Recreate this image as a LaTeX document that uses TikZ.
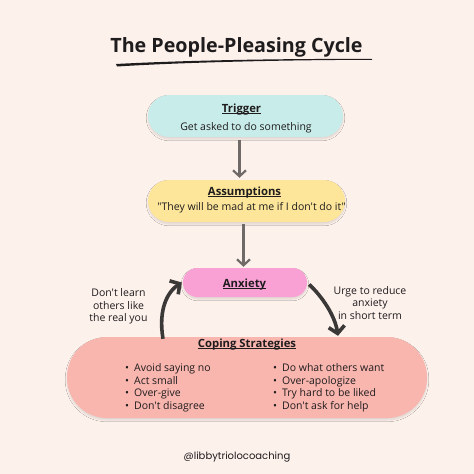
\documentclass[tikz,border=0pt]{standalone}
\usepackage{fontspec}
\usepackage{tikz}
\usepackage{xcolor}
\usetikzlibrary{arrows.meta,shadows.blur}

\newfontfamily\osans{Open Sans}
\newfontfamily\handlefont{Poppins}

\definecolor{bgpeach}{HTML}{FDF1EC}
\definecolor{triggerfill}{HTML}{C8ECEA}
\definecolor{assumefill}{HTML}{FDE69A}
\definecolor{anxietyfill}{HTML}{F9A1D5}
\definecolor{copingfill}{HTML}{F9B6AF}
\definecolor{arrowgray}{HTML}{6F6A67}
\definecolor{curvedark}{HTML}{3B3838}
\definecolor{inkdark}{HTML}{1F1C1D}

\newlength\ulwd
\newcommand\boxtitle[1]{\settowidth\ulwd{#1}\rlap{\rule[-1.8pt]{\ulwd}{1pt}}#1}

\begin{document}
\begin{tikzpicture}[x=1pt,y=-1pt,
  pill/.style={rectangle,rounded corners=#1,inner sep=0pt,
    blur shadow={shadow xshift=0pt,shadow yshift=-2pt,shadow blur steps=6,shadow opacity=12}},
  head/.style={anchor=base,inner sep=0pt,text=inkdark,font=\osans\bfseries\fontsize{11.3}{13}\selectfont},
  body/.style={anchor=base,inner sep=0pt,text=inkdark,font=\osans\fontsize{10.5}{12.4}\selectfont},
  thinarrow/.style={draw=arrowgray,line width=2.2pt,-{Straight Barb[length=6pt,width=13pt]}},
  loop/.style={draw=curvedark,line width=3.6pt,-{Straight Barb[length=7pt,width=16pt]}}]
  \fill[bgpeach] (0,0) rectangle (474,474);
  \useasboundingbox (0,0) rectangle (474,474);

  % title and its swoosh
  \node[anchor=base,inner sep=0pt,text=inkdark,font=\osans\bfseries\fontsize{19.7}{24}\selectfont] (title) at (236.5,52) {The People-Pleasing Cycle};
  \fill[inkdark] (116,64) .. controls (180,60.5) and (280,58.5) .. (372,59) -- (372,59.8) .. controls (280,60) and (180,62.5) .. (117,66.5) -- cycle;

  % boxes
  \node[pill=21pt,fill=triggerfill,minimum width=195pt,minimum height=42pt] (trigger) at (245.5,116) {};
  \node[pill=21pt,fill=assumefill,minimum width=197pt,minimum height=42pt] (assume) at (246.5,201) {};
  \node[pill=14.5pt,fill=anxietyfill,minimum width=124pt,minimum height=29pt] (anxiety) at (245,282.5) {};
  \node[pill=40pt,fill=copingfill,minimum width=360pt,minimum height=81pt] (coping) at (247,377.5) {};

  % texts in the boxes (multi-line nodes sit on their last baseline)
  \node[head] (triggerhead) at (241.5,112) {\boxtitle{Trigger}};
  \node[body] (triggertext) at (246,130) {Get asked to do something};
  \node[head] (assumehead) at (244.5,195) {\boxtitle{Assumptions}};
  \node[body] (assumetext) at (251.5,210) {"They will be mad at me if I don't do it"};
  \node[head] (anxietyhead) at (244.5,287) {\boxtitle{Anxiety}};
  \node[head] (copinghead) at (247,347) {\boxtitle{Coping Strategies}};
  \node[body,anchor=base west,align=left] (copingleft) at (125,409)
    {\textbullet\hspace{5pt}Avoid saying no\\\textbullet\hspace{5pt}Act small\\\textbullet\hspace{5pt}Over-give\\\textbullet\hspace{5pt}Don't disagree};
  \node[body,anchor=base west,align=left] (copingright) at (273,409)
    {\textbullet\hspace{5pt}Do what others want\\\textbullet\hspace{5pt}Over-apologize\\\textbullet\hspace{5pt}Try hard to be liked\\\textbullet\hspace{5pt}Don't ask for help};

  % side notes
  \node[body,align=center] (leftnote) at (118.5,321.5) {Don't learn\\others like\\the real you};
  \node[body,align=center] (rightnote) at (370,319) {Urge to reduce\\anxiety\\in short term};

  % arrows
  \draw[thinarrow] ([xshift=-6pt,yshift=-3pt]trigger.south) -- ([xshift=-7pt,yshift=2pt]assume.north);
  \draw[thinarrow] ([xshift=-3pt,yshift=-2pt]assume.south) -- ([xshift=-1.5pt,yshift=1pt]anxiety.north);
  \draw[loop] ([xshift=-84pt,yshift=-2pt]coping.north) .. controls +(-5,-30) and +(-14,9) .. ([xshift=-1pt]anxiety.west);
  \draw[loop] ([xshift=2pt,yshift=-2pt]anxiety.east) .. controls +(13,12) and +(-3,-20) .. ([xshift=91pt,yshift=1pt]coping.north);

  \node[anchor=base,inner sep=0pt,text=inkdark,font=\handlefont\fontsize{10}{12}\selectfont] (handle) at (237,459) {@libbytriolocoaching};
\end{tikzpicture}
\end{document}
